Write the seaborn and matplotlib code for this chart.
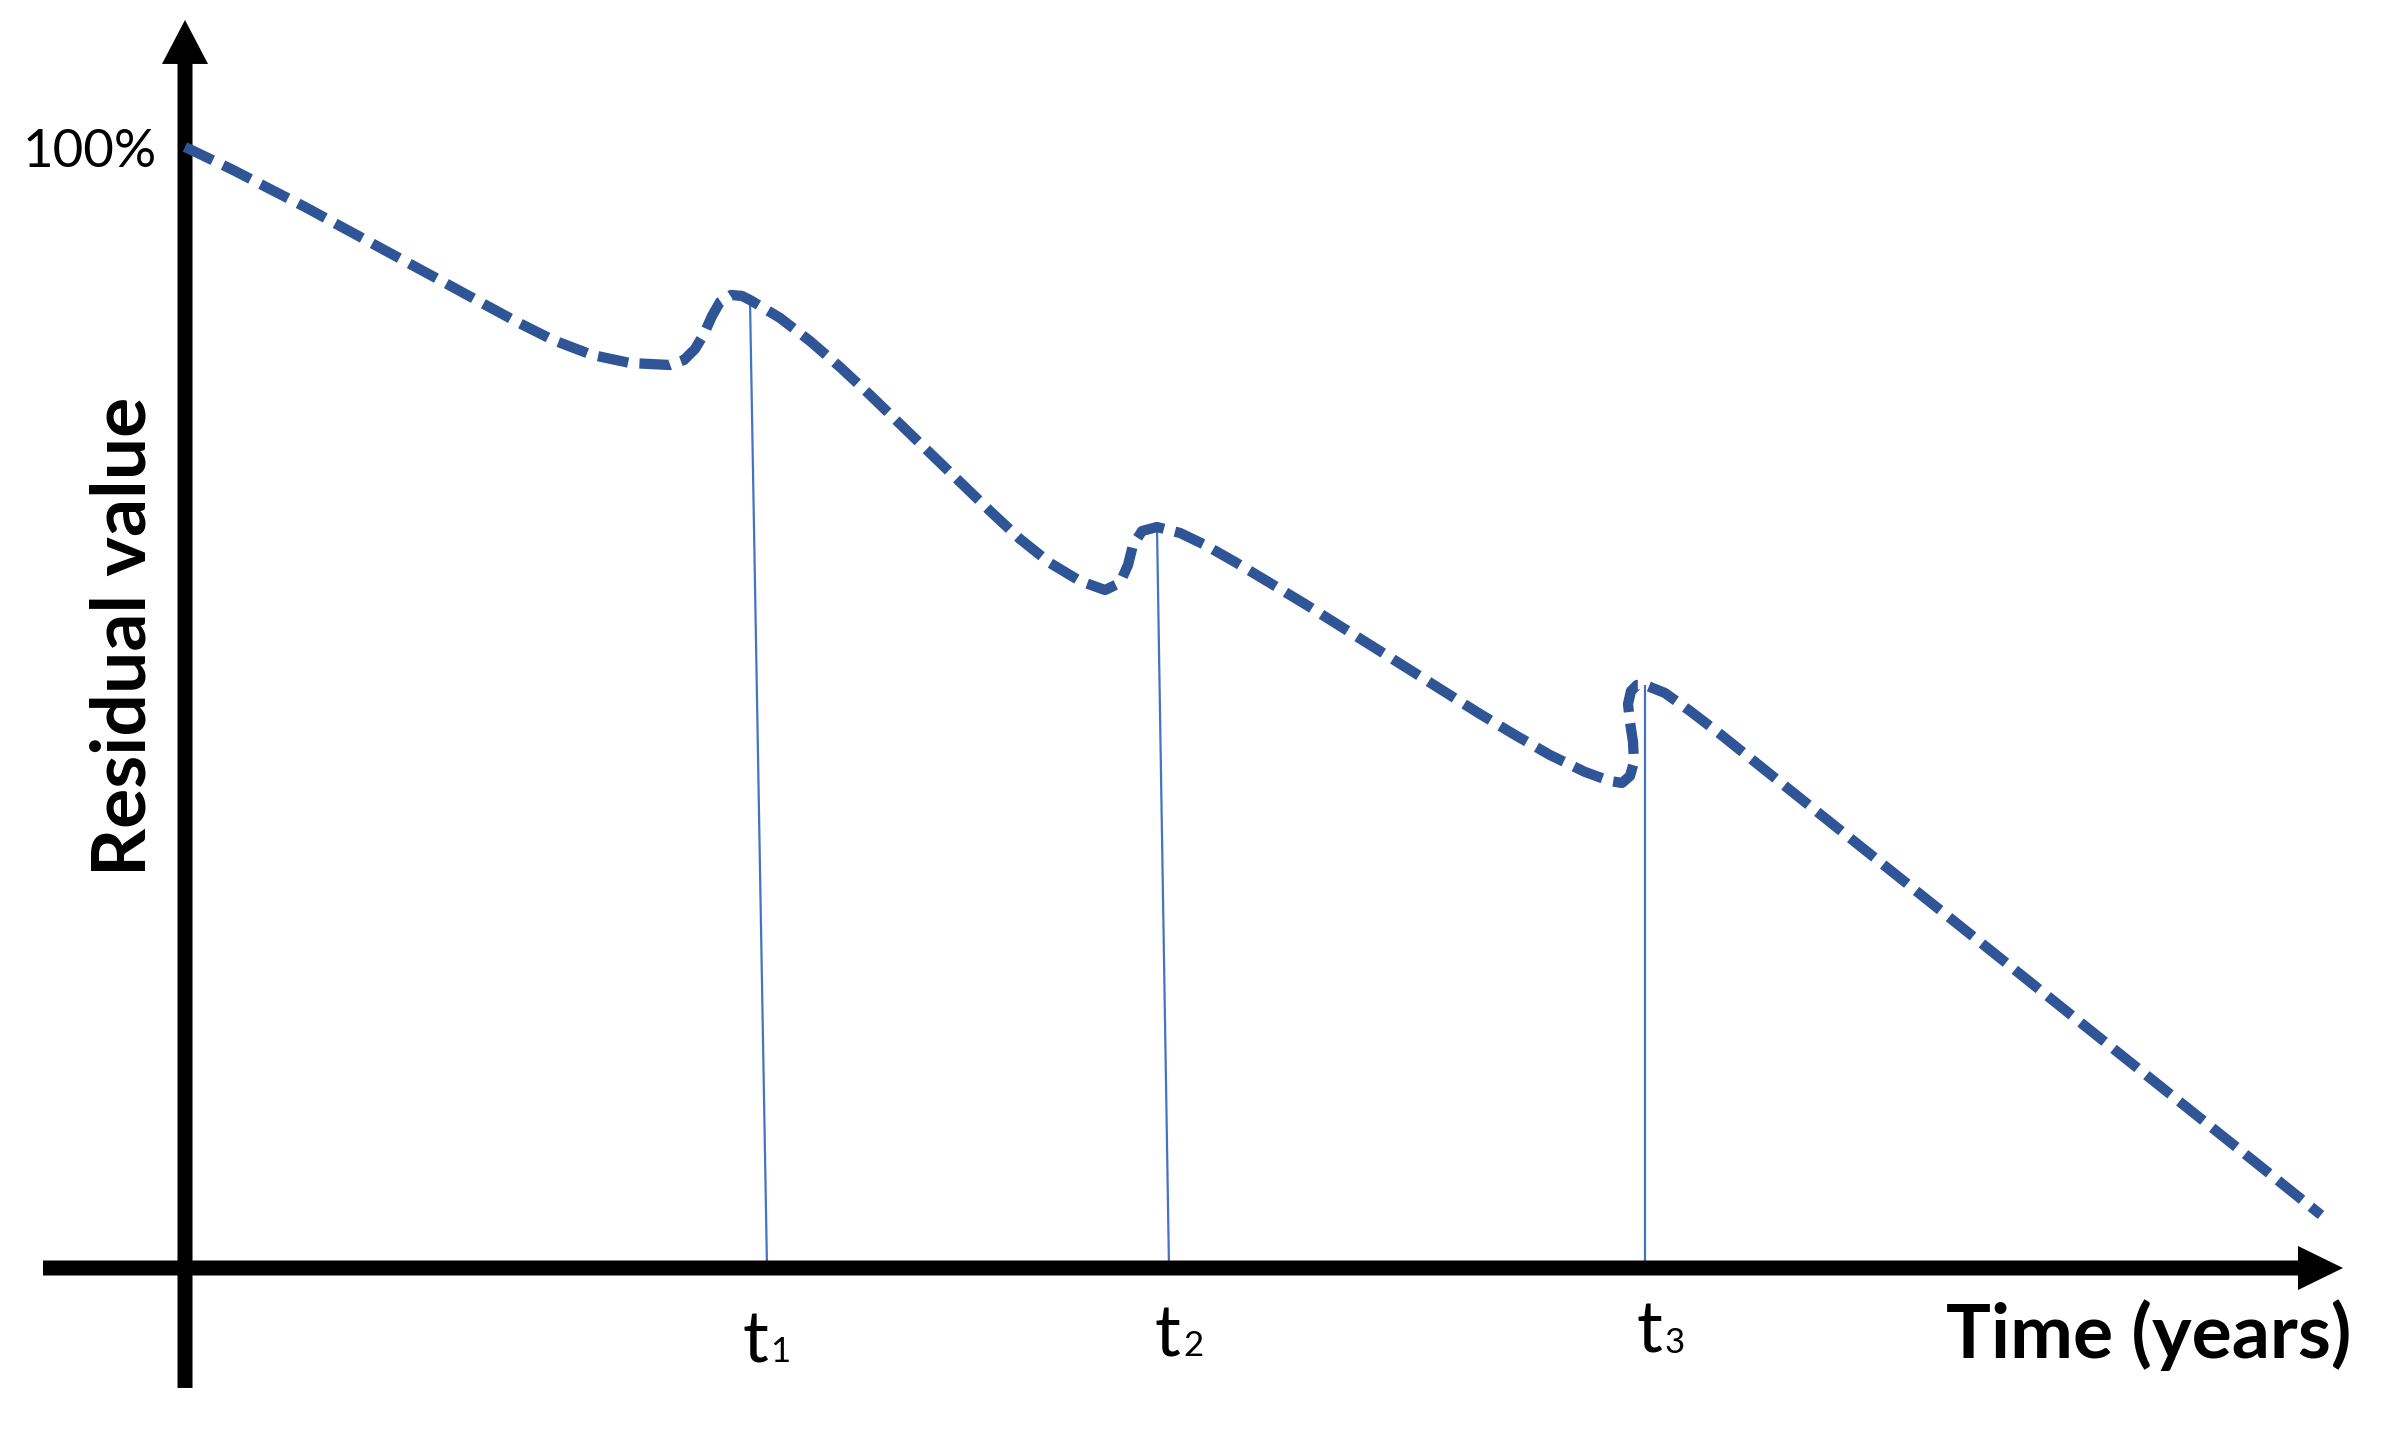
import numpy as np
import pandas as pd
import matplotlib
matplotlib.use("Agg")
import matplotlib.pyplot as plt
import seaborn as sns

# ---------------- data ----------------
# time (arbitrary units) and residual value (%) of the dashed curve
time_pts = [0.00, 0.48, 0.83, 1.20, 1.55, 1.90, 2.27, 2.62, 2.97, 3.32,
            3.68, 4.07, 4.45, 4.85,
            4.99, 5.10, 5.19, 5.27, 5.35, 5.46, 5.57, 5.65,
            5.95, 6.25, 6.55, 6.85, 7.15, 7.45, 7.75, 8.05, 8.35, 8.65, 8.95, 9.20,
            9.35, 9.43, 9.48, 9.57, 9.72,
            9.95, 10.20, 10.50, 10.85, 11.20, 11.55, 11.90, 12.25, 12.60, 12.95,
            13.30, 13.65, 14.00, 14.25, 14.37,
            14.45, 14.49, 14.48, 14.45, 14.43, 14.46, 14.52, 14.60,
            14.80, 15.05, 15.35, 15.95, 16.55, 17.15, 17.75, 18.35, 18.95, 19.55,
            20.15, 20.75, 21.36]
value_pts = [100.00, 97.95, 96.34, 94.65, 92.95, 91.26, 89.47, 87.78, 86.08, 84.39,
             82.78, 81.45, 80.73, 80.55,
             81.00, 81.98, 83.32, 84.92, 86.17, 86.80, 86.71, 86.35,
             84.75, 82.69, 80.37, 77.88, 75.29, 72.70, 70.12, 67.53, 65.03, 62.89, 61.28, 60.48,
             61.11, 62.71, 64.50, 65.74, 66.10,
             65.57, 64.50, 62.98, 61.11, 59.23, 57.27, 55.31, 53.35, 51.38, 49.42,
             47.55, 45.76, 44.25, 43.44, 43.27,
             43.89, 45.14, 46.92, 48.71, 50.31, 51.47, 52.01, 52.01,
             51.29, 49.69, 47.64, 43.35, 39.07, 34.79, 30.51, 26.23, 21.94, 17.66,
             13.38, 9.10, 4.73]

# marker lines t1, t2, t3 (top on the curve, foot on the time axis)
marker_labels = ["1", "2", "3"]
marker_top_time = [5.65, 9.72, 14.60]
marker_top_value = [86.35, 66.10, 52.01]
marker_base_time = [5.82, 9.84, 14.60]

# axis extents
x_axis_start, x_axis_end = -1.42, 21.58
y_axis_start, y_axis_end = -10.70, 111.33

df = pd.DataFrame({"time": time_pts, "value": value_pts})

# ---------------- figure ----------------
sns.set_theme(style="white")
plt.rcParams["font.family"] = ["Lato", "DejaVu Sans"]

W, H, DPI = 2383, 1443, 100
fig = plt.figure(figsize=(W / DPI, H / DPI), dpi=DPI)
ax = fig.add_axes([0, 0, 1, 1])
ax.set_xlim(-1.85, 21.98)
ax.set_ylim(-15.61, 113.11)
ax.axis("off")

px_x = 100.0   # pixels per time unit
px_y = 11.21   # pixels per value unit

# marker lines
for tt, tv, tb in zip(marker_top_time, marker_top_value, marker_base_time):
    ax.plot([tt, tb], [tv, 0], color="#4472C4", lw=1.6, solid_capstyle="butt", zorder=2)

# axes with arrows
shaft = 15
ax.arrow(x_axis_start, 0, x_axis_end - x_axis_start, 0,
         width=shaft / px_y, head_width=44 / px_y, head_length=45 / px_x,
         length_includes_head=True, color="black", lw=0, zorder=3)
ax.arrow(0, y_axis_start, 0, y_axis_end - y_axis_start,
         width=shaft / px_x, head_width=46 / px_x, head_length=44 / px_y,
         length_includes_head=True, color="black", lw=0, zorder=3)

# dashed residual value curve
sns.lineplot(data=df, x="time", y="value", sort=False, estimator=None, ax=ax,
             color="#2F5597", linewidth=7.4, linestyle=(0, (3.0, 1.1)),
             dash_capstyle="butt", dash_joinstyle="round", zorder=4, legend=False)

# texts
ax.text(-0.28, 98.2, "100%", ha="right", va="baseline", fontsize=38, color="black")
ax.text(-0.61, 56.3, "Residual value", rotation=90, ha="center", va="center",
        fontsize=54, fontweight="bold", color="black")
ax.text(19.64, -5.98, "Time (years)", ha="center", va="center",
        fontsize=54, fontweight="bold", color="black")

t_label_left = [5.57, 9.70, 14.52]
t_label_base = [-8.39, -7.85, -7.58]
for lab, xl, yb in zip(marker_labels, t_label_left, t_label_base):
    ax.text(xl, yb, "t", ha="left", va="baseline", fontsize=52, color="black")
    ax.text(xl + 0.28, yb, lab, ha="left", va="baseline", fontsize=25, color="black")

fig.savefig("out.png", dpi=DPI, facecolor="white")
